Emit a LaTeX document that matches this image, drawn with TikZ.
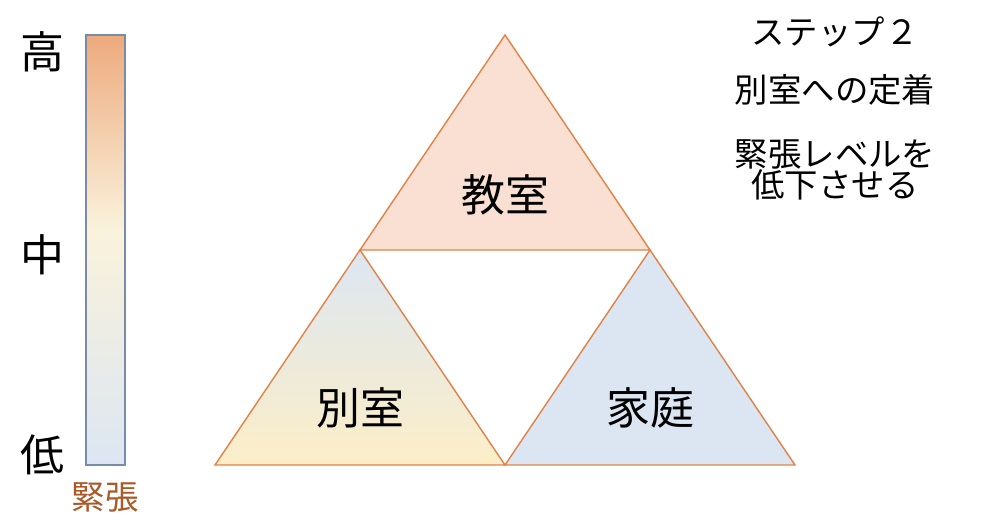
\documentclass[tikz,border=0pt]{standalone}
\usepackage{fontspec}
\setmainfont{Noto Sans CJK JP}
\definecolor{peach}{RGB}{250,224,210}
\definecolor{edge}{RGB}{225,130,70}
\definecolor{paleblue}{RGB}{220,230,242}
\definecolor{paleyellow}{RGB}{252,238,200}
\definecolor{hot}{RGB}{237,170,125}
\definecolor{warm}{RGB}{246,212,100}
\definecolor{mild}{RGB}{250,242,220}
\definecolor{bartext}{RGB}{170,90,40}
\definecolor{barline}{RGB}{120,140,170}
\begin{document}
\begin{tikzpicture}[x=0.1mm,y=-0.1mm]
        \useasboundingbox (0,0) rectangle (1000,525);
        \tikzset{tri/.style={draw=edge,line width=0.4pt},
                 big/.style={font=\fontsize{12.5}{14}\selectfont},
                 side/.style={font=\fontsize{9.5}{11}\selectfont,align=center}}

        % tension bar
        \shade[top color=hot,middle color=warm,bottom color=mild] (86,35) rectangle (125,230);
        \shade[top color=mild,bottom color=paleblue] (86,230) rectangle (125,465);
        \draw[barline,line width=0.4pt] (86,35) rectangle (125,465);
        \node[big] (high) at (42,52) {高};
        \node[big] (mid) at (42,255) {中};
        \node[big] (low) at (42,455) {低};
        \node[side,text=bartext] (tension) at (105,497) {緊張};

        % triangles
        \fill[peach] (505,35) -- (650,250) -- (360,250) -- cycle;
        \shade[top color=paleblue,bottom color=paleyellow] (360,250) -- (505,465) -- (215,465) -- cycle;
        \fill[paleblue] (650,250) -- (795,465) -- (505,465) -- cycle;
        \draw[tri] (505,35) -- (650,250) -- (360,250) -- cycle;
        \draw[tri] (360,250) -- (505,465) -- (215,465) -- cycle;
        \draw[tri] (650,250) -- (795,465) -- (505,465) -- cycle;
        \node[big] (classroom) at (505,195) {教室};
        \node[big] (separate) at (360,408) {別室};
        \node[big] (home) at (650,408) {家庭};

        % notes
        \node[side] (stage) at (835,32) {ステップ２};
        \node[side] (settle) at (835,90) {別室への定着};
        \node[side] (goal) at (835,170) {緊張レベルを\\[-2pt]低下させる};
    \end{tikzpicture}
\end{document}
